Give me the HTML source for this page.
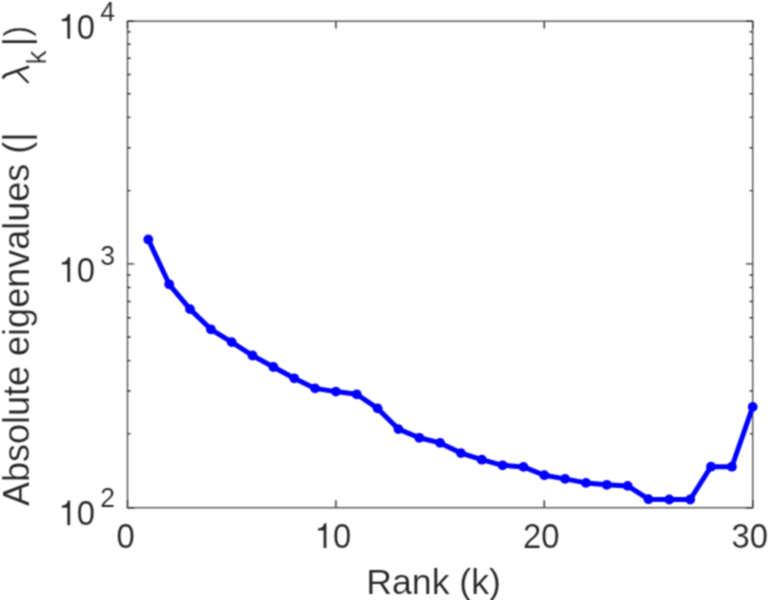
<!DOCTYPE html>
<html><head><meta charset="utf-8"><title>Eigenvalues</title>
<style>
html,body{margin:0;padding:0;background:#fff;}
body{width:772px;height:600px;overflow:hidden;}
svg{display:block;}
text{font-family:"Liberation Sans",sans-serif;}
</style></head><body>
<svg width="772" height="600" viewBox="0 0 772 600">
<defs><filter id="soft" x="0" y="0" width="772" height="600" filterUnits="userSpaceOnUse" color-interpolation-filters="sRGB"><feConvolveMatrix order="3" kernelMatrix="1 2 1 2 4 2 1 2 1" edgeMode="duplicate" preserveAlpha="true"/></filter>
<path id="one" d="M359 0H271V505H102V568C190 572 232 590 262 640C276 662 284 684 290 709H359Z"/></defs>
<rect x="0" y="0" width="772" height="600" fill="#ffffff"/>
<g filter="url(#soft)">
<rect x="0" y="0" width="772" height="600" fill="#ffffff"/>
<g stroke="#555555" stroke-width="1.42" fill="none" stroke-linecap="butt">
<rect x="127.50" y="21.20" width="625.20" height="486.50"/>
<path stroke="#303030" d="M127.50 507.70V500.30M127.50 21.20V28.60M335.90 507.70V500.30M335.90 21.20V28.60M544.30 507.70V500.30M544.30 21.20V28.60M752.70 507.70V500.30M752.70 21.20V28.60M127.50 507.70H134.30M752.70 507.70H745.90M127.50 263.85H134.30M752.70 263.85H745.90M127.50 21.20H134.30M752.70 21.20H745.90M127.50 433.87H130.60M752.70 433.87H749.60M127.50 391.04H130.60M752.70 391.04H749.60M127.50 360.65H130.60M752.70 360.65H749.60M127.50 337.08H130.60M752.70 337.08H749.60M127.50 317.81H130.60M752.70 317.81H749.60M127.50 301.53H130.60M752.70 301.53H749.60M127.50 287.42H130.60M752.70 287.42H749.60M127.50 274.98H130.60M752.70 274.98H749.60M127.50 190.62H130.60M752.70 190.62H749.60M127.50 147.79H130.60M752.70 147.79H749.60M127.50 117.40H130.60M752.70 117.40H749.60M127.50 93.83H130.60M752.70 93.83H749.60M127.50 74.56H130.60M752.70 74.56H749.60M127.50 58.28H130.60M752.70 58.28H749.60M127.50 44.17H130.60M752.70 44.17H749.60M127.50 31.73H130.60M752.70 31.73H749.60"/>
</g>
<polyline points="148.3,239.5 169.2,284.3 190.0,309.1 210.9,329.3 231.7,342.1 252.5,355.5 273.4,367.0 294.2,378.3 315.1,388.4 335.9,391.6 356.7,394.3 377.6,408.4 398.4,429.1 419.3,437.8 440.1,442.9 460.9,453.1 481.8,459.7 502.6,465.3 523.5,466.9 544.3,475.2 565.1,478.9 586.0,482.9 606.8,484.8 627.7,485.9 648.5,499.2 669.3,499.5 690.2,499.5 711.0,466.7 731.9,466.7 752.7,406.9" fill="none" stroke="#0000ff" stroke-width="5" stroke-linejoin="round" stroke-linecap="round"/>
<g fill="#0000ff">
<circle cx="148.3" cy="239.5" r="4.9"/><circle cx="169.2" cy="284.3" r="4.9"/><circle cx="190.0" cy="309.1" r="4.9"/><circle cx="210.9" cy="329.3" r="4.9"/><circle cx="231.7" cy="342.1" r="4.9"/><circle cx="252.5" cy="355.5" r="4.9"/><circle cx="273.4" cy="367.0" r="4.9"/><circle cx="294.2" cy="378.3" r="4.9"/><circle cx="315.1" cy="388.4" r="4.9"/><circle cx="335.9" cy="391.6" r="4.9"/><circle cx="356.7" cy="394.3" r="4.9"/><circle cx="377.6" cy="408.4" r="4.9"/><circle cx="398.4" cy="429.1" r="4.9"/><circle cx="419.3" cy="437.8" r="4.9"/><circle cx="440.1" cy="442.9" r="4.9"/><circle cx="460.9" cy="453.1" r="4.9"/><circle cx="481.8" cy="459.7" r="4.9"/><circle cx="502.6" cy="465.3" r="4.9"/><circle cx="523.5" cy="466.9" r="4.9"/><circle cx="544.3" cy="475.2" r="4.9"/><circle cx="565.1" cy="478.9" r="4.9"/><circle cx="586.0" cy="482.9" r="4.9"/><circle cx="606.8" cy="484.8" r="4.9"/><circle cx="627.7" cy="485.9" r="4.9"/><circle cx="648.5" cy="499.2" r="4.9"/><circle cx="669.3" cy="499.5" r="4.9"/><circle cx="690.2" cy="499.5" r="4.9"/><circle cx="711.0" cy="466.7" r="4.9"/><circle cx="731.9" cy="466.7" r="4.9"/><circle cx="752.7" cy="406.9" r="4.9"/>
</g>
<g fill="#262626" stroke="#ffffff" stroke-width="0.16">
<text transform="translate(125.60,548.00) scale(0.942,1)" font-size="34.8" text-anchor="middle">0</text>
<use href="#one" transform="translate(314.67,548.00) scale(0.03278,-0.03480)" stroke-width="4.6"/><text transform="translate(332.90,548.00) scale(0.942,1)" font-size="34.8">0</text>
<text transform="translate(541.30,548.00) scale(0.942,1)" font-size="34.8" text-anchor="middle">20</text>
<text transform="translate(749.70,548.00) scale(0.942,1)" font-size="34.8" text-anchor="middle">30</text>
<use href="#one" transform="translate(58.40,525.20) scale(0.03278,-0.03480)" stroke-width="4.6"/><text transform="translate(76.63,525.20) scale(0.942,1)" font-size="34.8">0</text><text transform="translate(100.20,507.10) scale(0.942,1)" font-size="28.2">2</text>
<use href="#one" transform="translate(58.40,281.95) scale(0.03278,-0.03480)" stroke-width="4.6"/><text transform="translate(76.63,281.95) scale(0.942,1)" font-size="34.8">0</text><text transform="translate(100.20,264.95) scale(0.942,1)" font-size="28.2">3</text>
<use href="#one" transform="translate(58.40,38.70) scale(0.03278,-0.03480)" stroke-width="4.6"/><text transform="translate(76.63,38.70) scale(0.942,1)" font-size="34.8">0</text><text transform="translate(100.20,20.50) scale(0.942,1)" font-size="28.2">4</text>
<text transform="translate(433.6,594) scale(0.99,1)" font-size="36" text-anchor="middle">Rank (k)</text>
<g transform="translate(28.8,0) scale(1.0,1) rotate(-90)" font-size="36">
<text x="-506" y="0">Absolute eigenvalues (|</text>
<text x="-64.6" y="17.6" font-size="28">k</text>
<text x="-46.3" y="0">|</text>
<text transform="translate(-36.6,0) scale(0.86,1)">)</text>
</g>
</g>
<g fill="none" stroke="#262626" stroke-linecap="butt" stroke-linejoin="round">
<path stroke-width="2.8" d="M3.0 78.5C3.3 76.5 4.6 75.2 6.6 74.5L29.0 66.7"/>
<path stroke-width="2.2" stroke-linecap="round" d="M17.2 71.4L27.8 82.3"/>
</g>
</g>
</svg>
</body></html>
